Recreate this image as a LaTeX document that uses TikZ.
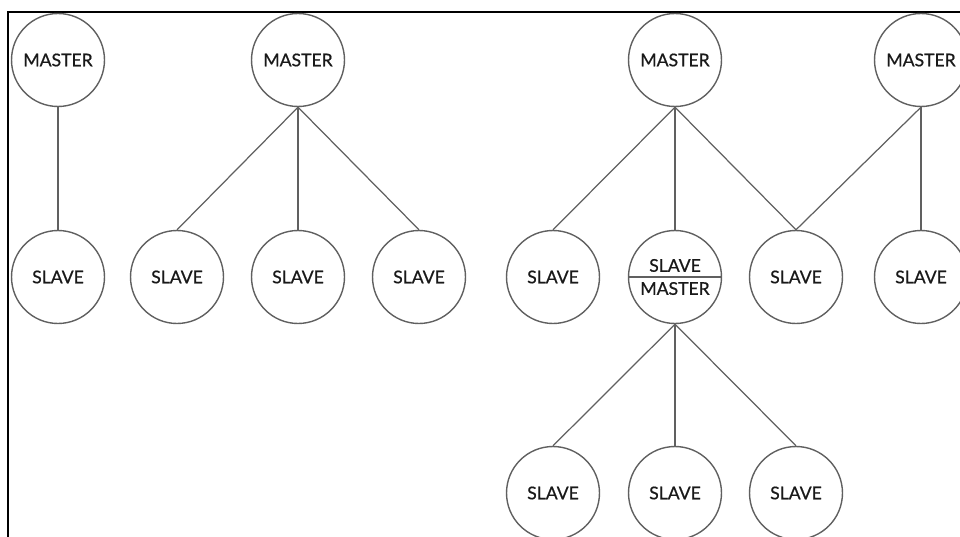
\documentclass[tikz,border=0pt]{standalone}
\usepackage{fontspec}
\setmainfont{Lato}
\newfontfamily\msfont[FakeBold=0.7]{Lato}
\usetikzlibrary{positioning, shapes.multipart}
\tikzset{
    msnode/.style={circle, draw=gray!75!black, line width=0.8pt, minimum size=18.6mm, inner sep=0pt, font=\msfont\normalsize, text=black!90},
    mssplit/.style={circle split, draw=gray!75!black, line width=0.8pt, minimum size=18.6mm, inner sep=2.5pt, font=\msfont\normalsize, text=black!90},
    mslink/.style={draw=gray!75!black, line width=0.7pt},
    msframe/.style={line width=1.3pt, draw=black}
}

\begin{document}
\begin{tikzpicture}[x=0.02cm, y=-0.02cm]
    \useasboundingbox (0,0) rectangle (960,537);
    % frame (only top and left edges show)
    \coordinate (fBL) at (8,537);
    \coordinate (fTL) at (8,12);
    \coordinate (fTR) at (960,12);
    \draw[msframe] (fBL) -- (fTL) -- (fTR);

    % single master, single slave
    \node[msnode] (m1) at (58,60) {MASTER};
    \node[msnode] (s1) at (58,277) {SLAVE};

    % single master, three slaves
    \node[msnode] (m2) at (298,60) {MASTER};
    \node[msnode] (s2a) at (177,277) {SLAVE};
    \node[msnode] (s2b) at (298,277) {SLAVE};
    \node[msnode] (s2c) at (419,277) {SLAVE};

    % multi master, cascaded
    \node[msnode] (m3) at (675,60) {MASTER};
    \node[msnode] (m4) at (921,60) {MASTER};
    \node[msnode] (s3a) at (553,277) {SLAVE};
    \node[mssplit] (sm) at (675,277) {SLAVE \nodepart{lower} MASTER};
    \node[msnode] (s3c) at (796,277) {SLAVE};
    \node[msnode] (s4) at (921,277) {SLAVE};
    \node[msnode] (s5a) at (553,493) {SLAVE};
    \node[msnode] (s5b) at (675,493) {SLAVE};
    \node[msnode] (s5c) at (796,493) {SLAVE};

    % links
    \draw[mslink] (m1.south) -- (s1.north);
    \draw[mslink] (m2.south) -- (s2a.north);
    \draw[mslink] (m2.south) -- (s2b.north);
    \draw[mslink] (m2.south) -- (s2c.north);
    \draw[mslink] (m3.south) -- (s3a.north);
    \draw[mslink] (m3.south) -- (sm.north);
    \draw[mslink] (m3.south) -- (s3c.north);
    \draw[mslink] (m4.south) -- (s3c.north);
    \draw[mslink] (m4.south) -- (s4.north);
    \draw[mslink] (sm.south) -- (s5a.north);
    \draw[mslink] (sm.south) -- (s5b.north);
    \draw[mslink] (sm.south) -- (s5c.north);
\end{tikzpicture}
\end{document}
